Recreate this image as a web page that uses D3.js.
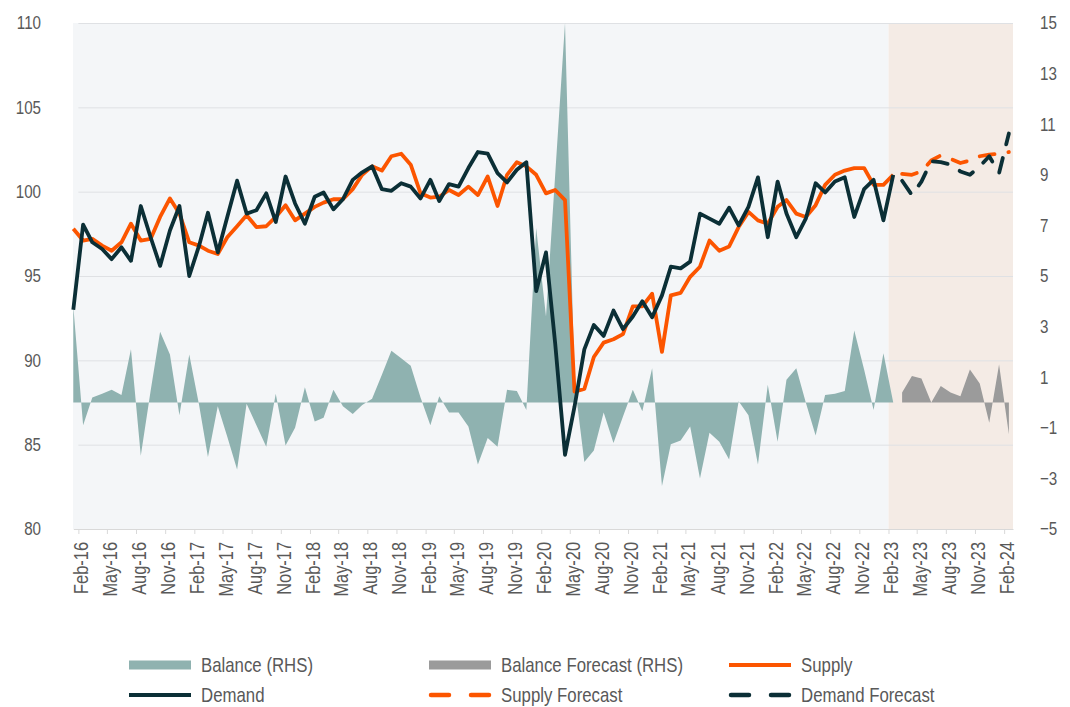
<!DOCTYPE html>
<html><head><meta charset="utf-8">
<script src="https://cdn.jsdelivr.net/npm/d3@7"></script>
<style>
body{margin:0;background:#fff;}
svg{display:block;}
text{font-family:"Liberation Sans",Arial,sans-serif;fill:#595959;}
</style></head><body>
<svg id="chart" width="1070" height="707"></svg>
<script>
// ---------- DATA ----------
const firstMonth = "Jan-16";      // first monthly observation
const forecastStart = "Feb-23";   // start of forecast shading
const tickLabels = ["Feb-16","May-16","Aug-16","Nov-16","Feb-17","May-17","Aug-17","Nov-17","Feb-18","May-18","Aug-18","Nov-18","Feb-19","May-19","Aug-19","Nov-19","Feb-20","May-20","Aug-20","Nov-20","Feb-21","May-21","Aug-21","Nov-21","Feb-22","May-22","Aug-22","Nov-22","Feb-23","May-23","Aug-23","Nov-23","Feb-24"];
const leftTicks = [80,85,90,95,100,105,110];
const rightTicks = [-5,-3,-1,1,3,5,7,9,11,13,15];

const demand = [93.0,98.05,97.0,96.6,96.0,96.7,95.9,99.15,97.3,95.6,97.7,99.15,95.0,96.8,98.75,96.4,98.5,100.65,98.7,98.9,
  99.9,98.2,100.9,99.3,98.1,99.7,99.95,98.95,99.55,100.7,101.15,101.5,100.15,100.05,100.5,100.3,99.6,100.7,99.45,100.45,
  100.3,101.4,102.35,102.25,101.1,100.55,101.3,101.75,94.1,96.4,91.0,84.4,87.25,90.65,92.1,91.45,92.95,91.85,92.6,93.5,
  92.55,93.85,95.55,95.45,95.85,98.7,98.4,98.1,99.05,98.0,99.1,100.85,97.3,100.6,98.7,97.3,98.4,100.5,99.95,100.6,
  100.85,98.5,100.15,100.7,98.3,101.0];
const supply = [97.8,97.1,97.2,96.8,96.5,97.0,98.1,97.1,97.2,98.5,99.6,98.7,97.0,96.8,96.5,96.3,97.3,97.95,98.6,97.9,
  97.95,98.5,99.2,98.3,98.7,99.1,99.35,99.55,99.55,100.15,101.0,101.5,101.25,102.1,102.25,101.6,99.9,99.65,99.7,100.1,
  99.8,100.3,99.8,100.9,99.15,101.0,101.75,101.5,101.0,99.9,100.1,99.5,88.15,88.3,90.2,91.05,91.25,91.55,93.2,93.2,
  93.95,90.5,93.85,94.0,94.95,95.55,97.1,96.5,96.75,97.9,98.8,98.3,98.1,99.1,99.5,98.7,98.5,99.2,100.4,101.0,
  101.25,101.4,101.4,100.4,100.4,101.0];
const balance = [3.8,-0.9,0.2,0.35,0.5,0.3,2.1,-2.1,0.45,2.8,1.9,-0.5,1.9,-0.1,-2.15,-0.15,-1.35,-2.65,-0.05,-0.9,
  -1.75,0.35,-1.7,-1.0,0.6,-0.75,-0.6,0.5,-0.15,-0.45,-0.1,0.15,1.1,2.05,1.75,1.45,0.2,-0.9,0.25,-0.4,
  -0.4,-0.95,-2.45,-1.4,-1.75,0.5,0.45,-0.3,6.9,3.4,9.0,15.0,0.8,-2.35,-1.9,-0.4,-1.6,-0.55,0.5,-0.35,
  1.35,-3.3,-1.65,-1.5,-0.95,-3.0,-1.2,-1.55,-2.25,0.05,-0.5,-2.45,0.7,-1.55,0.9,1.35,0.0,-1.3,0.3,0.35,
  0.45,2.85,1.3,-0.3,1.95,0.0];
const supplyForecast = [101.05,101.0,101.2,101.85,102.15,101.95,101.7,101.85,102.1,102.2,102.25,102.35];
const demandForecast = [100.65,99.8,100.6,101.8,101.75,101.6,101.2,101.0,101.5,102.1,101.1,103.45];
const balanceForecast = [0.4,1.05,0.95,0.0,0.65,0.4,0.25,1.3,0.75,-0.8,1.5,-1.25];

const legendItems = [
  {label:"Balance (RHS)", kind:"rect", color:"#8fb2b0"},
  {label:"Balance Forecast (RHS)", kind:"rect", color:"#9b9b9b"},
  {label:"Supply", kind:"line", color:"#fc5500"},
  {label:"Demand", kind:"line", color:"#0b2f36"},
  {label:"Supply Forecast", kind:"dash", color:"#fc5500"},
  {label:"Demand Forecast", kind:"dash", color:"#0b2f36"}
];

// ---------- CHART ----------
const C = {bal:"#8fb2b0", balF:"#9b9b9b", sup:"#fc5500", dem:"#0b2f36",
           bg:"#f4f6f8", bgF:"#f4ebe5", grid:"#dfe1e4", axis:"#d9d9d9"};
const PX0 = 73.3, PX1 = 1013, PY0 = 23, PY1 = 529;
const NARROW = 0.82; // horizontal squeeze to mimic a condensed face

const svg = d3.select("#chart");
const parseLbl = d3.timeParse("%b-%y");
const start = parseLbl(firstMonth);
const monthDate = i => new Date(start.getFullYear(), start.getMonth() + i, 16);
const nHist = demand.length;
const histDates = d3.range(nHist).map(monthDate);
const fcDates = d3.range(supplyForecast.length).map(i => monthDate(nHist + i));
const lastDate = fcDates[fcDates.length - 1];

const x = d3.scaleTime()
  .domain([histDates[0], d3.timeDay.offset(lastDate, 13)])
  .range([PX0, PX1]);
const yL = d3.scaleLinear().domain([80, 110]).range([PY1, PY0]);
const yR = d3.scaleLinear().domain([-5, 15]).range([PY1, PY0]);

const fcX = x(parseLbl(forecastStart));

// backgrounds
svg.append("rect").attr("x", 73).attr("y", PY0).attr("width", fcX - 73).attr("height", PY1 - PY0).attr("fill", C.bg);
svg.append("rect").attr("x", fcX).attr("y", PY0).attr("width", PX1 - fcX).attr("height", PY1 - PY0).attr("fill", C.bgF);

// gridlines
const tickDates = tickLabels.map(parseLbl);
const gridX0 = x(tickDates[0]);
svg.append("g").selectAll("line").data(leftTicks.filter(t => t > 80)).join("line")
  .attr("x1", gridX0).attr("x2", PX1)
  .attr("y1", d => yL(d) + 0.5).attr("y2", d => yL(d) + 0.5)
  .attr("stroke", C.grid).attr("stroke-width", 1);

svg.append("clipPath").attr("id", "clip").append("rect")
  .attr("x", 72).attr("y", PY0).attr("width", PX1 - 72).attr("height", PY1 - PY0);

const plot = svg.append("g").attr("clip-path", "url(#clip)");

const area = d3.area().x(d => x(d.date)).y0(yR(0)).y1(d => yR(d.v));
const hist = histDates.map((d, i) => ({date: d, d: demand[i], s: supply[i], b: balance[i]}));
const fc = fcDates.map((d, i) => ({date: d, d: demandForecast[i], s: supplyForecast[i], b: balanceForecast[i]}));

plot.append("path").datum(hist.map(p => ({date: p.date, v: p.b}))).attr("d", area).attr("fill", C.bal);
plot.append("path").datum(fc.map(p => ({date: p.date, v: p.b}))).attr("d", area).attr("fill", C.balF);

const line = d3.line().x(d => x(d.date)).y(d => yL(d.v));
function drawLine(data, color, dashed) {
  const p = svg.append("path").datum(data).attr("d", line)
    .attr("fill", "none").attr("stroke", color).attr("stroke-width", 3.8)
    .attr("stroke-linejoin", "round");
  if (dashed) p.attr("stroke-dasharray", "15,14").attr("stroke-linecap", "round");
}
drawLine(hist.map(p => ({date: p.date, v: p.s})), C.sup, false);
drawLine(fc.map(p => ({date: p.date, v: p.s})), C.sup, true);
drawLine(hist.map(p => ({date: p.date, v: p.d})), C.dem, false);
drawLine(fc.map(p => ({date: p.date, v: p.d})), C.dem, true);

// axes
const xAxis = svg.append("g").attr("transform", `translate(0,${PY1})`)
  .call(d3.axisBottom(x).tickValues(tickDates).tickFormat((d, i) => tickLabels[i]).tickSize(5).tickSizeOuter(0));
xAxis.select(".domain").attr("stroke", C.axis);
xAxis.selectAll(".tick line").attr("stroke", C.axis);
xAxis.selectAll(".tick text")
  .attr("x", 0).attr("y", 0).attr("dy", "0.35em")
  .attr("transform", `rotate(-90) translate(-13,2.5) scale(${NARROW},1)`).attr("text-anchor", "end")
  .style("font-size", "20px").attr("fill", "#595959");

const lAxis = svg.append("g").attr("transform", `translate(73,0)`)
  .call(d3.axisLeft(yL).tickValues(leftTicks).tickSize(0).tickPadding(32));
lAxis.select(".domain").remove();
lAxis.selectAll("text").attr("x", 0).attr("transform", `translate(-32,0) scale(${NARROW},1)`)
  .style("font-size", "18.5px").attr("fill", "#595959");

const rAxis = svg.append("g").attr("transform", `translate(${PX1},0)`)
  .call(d3.axisRight(yR).tickValues(rightTicks).tickSize(0).tickPadding(27));
rAxis.select(".domain").remove();
rAxis.selectAll("text").attr("x", 0).attr("transform", `translate(27,0) scale(${NARROW},1)`)
  .style("font-size", "18.5px").attr("fill", "#595959");

// legend
const colX = [129, 429, 729];
const rowY = [665, 695];
legendItems.forEach((it, k) => {
  const cx = colX[k % 3], cy = rowY[Math.floor(k / 3)];
  const g = svg.append("g");
  if (it.kind === "rect") {
    g.append("rect").attr("x", cx).attr("y", cy - 4.5).attr("width", 62).attr("height", 9).attr("fill", it.color);
  } else if (it.kind === "line") {
    g.append("line").attr("x1", cx).attr("x2", cx + 62).attr("y1", cy).attr("y2", cy)
      .attr("stroke", it.color).attr("stroke-width", 4);
  } else {
    [[cx + 2, cx + 20], [cx + 42, cx + 60]].forEach(([a, b]) =>
      g.append("line").attr("x1", a).attr("x2", b).attr("y1", cy).attr("y2", cy)
        .attr("stroke", it.color).attr("stroke-width", 4.5).attr("stroke-linecap", "round"));
  }
  g.append("text").attr("transform", `translate(${cx + 72},${cy}) scale(${NARROW},1)`)
    .attr("dy", "0.35em").style("font-size", "20.5px").attr("fill", "#595959").text(it.label);
});
</script>
</body></html>
